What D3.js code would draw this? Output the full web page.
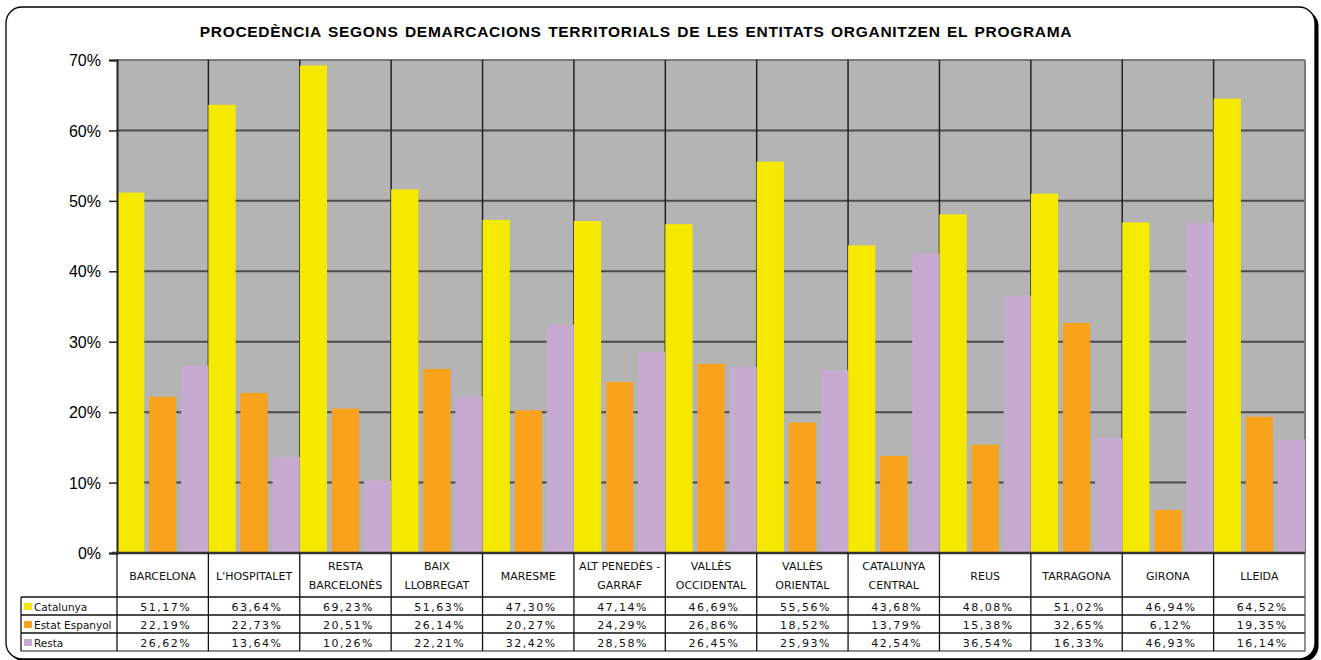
<!DOCTYPE html>
<html><head><meta charset="utf-8">
<script src="https://cdn.jsdelivr.net/npm/d3@7"></script>
<style>body{margin:0;background:#fff}svg{display:block}</style>
</head><body>
<script>
const categories = [["BARCELONA"],["L'HOSPITALET"],["RESTA","BARCELONÈS"],["BAIX","LLOBREGAT"],["MARESME"],["ALT PENEDÈS -","GARRAF"],["VALLÈS","OCCIDENTAL"],["VALLÈS","ORIENTAL"],["CATALUNYA","CENTRAL"],["REUS"],["TARRAGONA"],["GIRONA"],["LLEIDA"]];
const seriesNames = ["Catalunya","Estat Espanyol","Resta"];
const catalunya = [51.17,63.64,69.23,51.63,47.30,47.14,46.69,55.56,43.68,48.08,51.02,46.94,64.52];
const estatEspanyol = [22.19,22.73,20.51,26.14,20.27,24.29,26.86,18.52,13.79,15.38,32.65,6.12,19.35];
const resta = [26.62,13.64,10.26,22.21,32.42,28.58,26.45,25.93,42.54,36.54,16.33,46.93,16.14];
const yTicks = [0,10,20,30,40,50,60,70];
const title = "PROCEDÈNCIA SEGONS DEMARCACIONS TERRITORIALS DE LES ENTITATS ORGANITZEN EL PROGRAMA";
const colors = ["#F5E900","#F9A21B","#C6AAD2"];

const W = 1321, H = 660;
const svg = d3.select("body").append("svg").attr("width", W).attr("height", H);

// frame with shadow
svg.append("rect").attr("x", 9.5).attr("y", 10).attr("width", 1309).attr("height", 652).attr("rx", 16).attr("fill", "#000");
svg.append("rect").attr("x", 6).attr("y", 7).attr("width", 1309).attr("height", 652).attr("rx", 16)
  .attr("fill", "#fff").attr("stroke", "#000").attr("stroke-width", 1.3);

svg.append("text").attr("x", 636).attr("y", 37).attr("text-anchor", "middle")
  .attr("font-family", "Liberation Sans, Arial, sans-serif").attr("font-weight", "bold").attr("font-size", 15.5)
  .attr("letter-spacing", 0.7).attr("word-spacing", 1.5)
  .text(title);

const keys = categories.map(c => c.join(" "));
const x = d3.scaleBand().domain(keys).range([117, 1305]).padding(0);
const xi = d3.scaleBand().domain(seriesNames).range([0, x.bandwidth()]).paddingInner(0.15).paddingOuter(0);
const y = d3.scaleLinear().domain([0, 70]).range([553, 60]);

const plot = svg.append("g");
plot.append("rect").attr("x", 117).attr("y", y(70)).attr("width", 1305 - 117).attr("height", y(0) - y(70)).attr("fill", "#B4B4B4");

// horizontal gridlines
plot.selectAll(".hg").data(yTicks.filter(t => t > 0)).enter().append("line")
  .attr("x1", 117).attr("x2", 1305).attr("y1", d => y(d)).attr("y2", d => y(d))
  .attr("stroke", d => d === 70 ? "#7a7a7a" : "#4a4a4a").attr("stroke-width", 2);
// vertical gridlines
plot.selectAll(".vg").data(keys.slice(1)).enter().append("line")
  .attr("x1", d => x(d)).attr("x2", d => x(d)).attr("y1", y(70)).attr("y2", y(0))
  .attr("stroke", "#222").attr("stroke-width", 1.5);
plot.append("line").attr("x1", 1305).attr("x2", 1305).attr("y1", y(70)).attr("y2", y(0)).attr("stroke", "#7a7a7a").attr("stroke-width", 2);

const seriesData = [catalunya, estatEspanyol, resta];
seriesData.forEach((vals, si) => {
  plot.selectAll(".b" + si).data(vals).enter().append("rect")
    .attr("x", (d, i) => x(keys[i]) + xi(seriesNames[si]))
    .attr("width", xi.bandwidth())
    .attr("y", d => y(d)).attr("height", d => y(0) - y(d))
    .attr("fill", colors[si]);
});

// y axis
const yAxis = d3.axisLeft(y).tickValues(yTicks).tickSize(8).tickPadding(8).tickFormat(d => d + "%");
const ga = svg.append("g").attr("transform", "translate(117,0)").call(yAxis);
ga.select(".domain").attr("stroke", "#222").attr("stroke-width", 2);
ga.selectAll(".tick line").attr("stroke", "#222").attr("stroke-width", 1.5);
ga.selectAll("text").attr("font-family", "Liberation Sans, Arial, sans-serif").attr("font-size", 16).attr("fill", "#000").attr("dy", "0.35em");
svg.append("line").attr("x1", 112).attr("x2", 1305).attr("y1", y(0)).attr("y2", y(0)).attr("stroke", "#333").attr("stroke-width", 2.5);

// data table
const tf = "DejaVu Sans, Verdana, sans-serif";
const tbl = svg.append("g");
const hBot = 597, rowH = 18;
const rows = [hBot, hBot + rowH, hBot + 2 * rowH, hBot + 3 * rowH];
// header cells
categories.forEach((c, i) => {
  const cx = x(keys[i]) + x.bandwidth() / 2;
  const t = tbl.append("text").attr("x", cx).attr("text-anchor", "middle")
    .attr("font-family", tf).attr("font-size", 11).attr("fill", "#111");
  if (c.length === 1) {
    t.append("tspan").attr("x", cx).attr("y", 580).text(c[0]);
  } else {
    t.append("tspan").attr("x", cx).attr("y", 570).text(c[0]);
    t.append("tspan").attr("x", cx).attr("y", 589).text(c[1]);
  }
});
// values
seriesData.forEach((vals, si) => {
  tbl.selectAll(".v" + si).data(vals).enter().append("text")
    .attr("x", (d, i) => x(keys[i]) + x.bandwidth() / 2 + 3)
    .attr("y", rows[si] + 13.5).attr("text-anchor", "middle")
    .attr("font-family", tf).attr("font-size", 11).attr("letter-spacing", 1.5).attr("fill", "#111")
    .text(d => d.toFixed(2).replace(".", ",") + "%");
  tbl.append("rect").attr("x", 24).attr("y", rows[si] + 6).attr("width", 8).attr("height", 7).attr("fill", colors[si]);
  tbl.append("text").attr("x", 34).attr("y", rows[si] + 13.5)
    .attr("font-family", tf).attr("font-size", 10.5).attr("fill", "#111").text(seriesNames[si]);
});
// table lines
const lc = "#111";
tbl.append("line").attr("x1", 21).attr("x2", 1305).attr("y1", hBot).attr("y2", hBot).attr("stroke", lc).attr("stroke-width", 1.3);
rows.slice(1).forEach((ry, k) => {
  tbl.append("line").attr("x1", 21).attr("x2", 1305).attr("y1", ry).attr("y2", ry).attr("stroke", k === 2 ? "#666" : lc).attr("stroke-width", 1.3);
});
tbl.append("line").attr("x1", 21).attr("x2", 21).attr("y1", hBot).attr("y2", rows[3]).attr("stroke", lc).attr("stroke-width", 1.3);
keys.forEach(k => {
  tbl.append("line").attr("x1", x(k)).attr("x2", x(k)).attr("y1", y(0)).attr("y2", rows[3]).attr("stroke", lc).attr("stroke-width", 1.3);
});
tbl.append("line").attr("x1", 1305).attr("x2", 1305).attr("y1", y(0)).attr("y2", rows[3]).attr("stroke", "#555").attr("stroke-width", 1.3);
</script>
</body></html>
